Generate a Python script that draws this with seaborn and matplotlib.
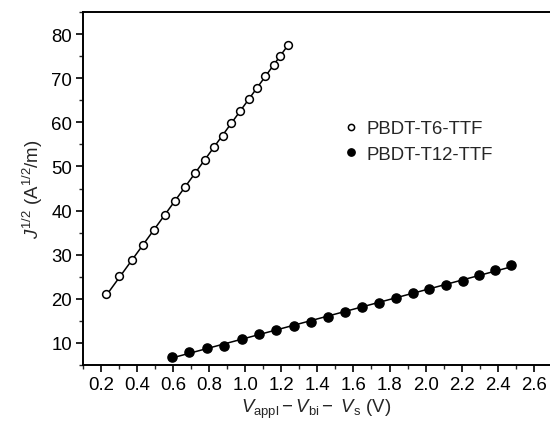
import matplotlib
matplotlib.use("Agg")
import matplotlib.pyplot as plt
import seaborn as sns
import numpy as np
import pandas as pd

sns.set_style("ticks")
plt.rcParams['font.family'] = ['Liberation Sans', 'DejaVu Sans']
plt.rcParams['mathtext.fontset'] = 'custom'
plt.rcParams['mathtext.rm'] = 'Liberation Sans'
plt.rcParams['mathtext.it'] = 'Liberation Sans:italic'

# PBDT-T6-TTF (open circles)
t6_v = [0.23, 0.30, 0.37, 0.435, 0.495, 0.555, 0.612, 0.667, 0.721, 0.775,
        0.824, 0.874, 0.922, 0.972, 1.019, 1.065, 1.111, 1.157, 1.194, 1.235]
t6_j = [21.0, 25.1, 28.7, 32.2, 35.5, 38.9, 42.2, 45.4, 48.4, 51.5,
        54.4, 57.0, 59.8, 62.6, 65.2, 67.7, 70.4, 72.9, 75.1, 77.6]

# PBDT-T12-TTF (filled circles)
t12_v = [0.592, 0.690, 0.786, 0.883, 0.980, 1.076, 1.172, 1.270, 1.364, 1.458,
         1.554, 1.646, 1.741, 1.835, 1.928, 2.020, 2.112, 2.205, 2.295, 2.386, 2.474]
t12_j = [6.9, 7.9, 8.9, 9.4, 11.0, 12.0, 13.0, 13.8, 14.8, 15.8,
         17.0, 18.1, 19.0, 20.2, 21.3, 22.2, 23.1, 24.1, 25.4, 26.6, 27.6]

x_ticks = [0.2, 0.4, 0.6, 0.8, 1.0, 1.2, 1.4, 1.6, 1.8, 2.0, 2.2, 2.4, 2.6]
y_ticks = [10, 20, 30, 40, 50, 60, 70, 80]

fig = plt.figure(figsize=(5.5, 4.27), dpi=100)
ax = fig.add_axes([83/550, 61/427, 467/550, 353/427])

# linear fit lines
sns.regplot(x=t6_v, y=t6_j, ax=ax, scatter=False, ci=None, truncate=True,
            line_kws={'color': 'black', 'lw': 1.1})
sns.regplot(x=t12_v, y=t12_j, ax=ax, scatter=False, ci=None, truncate=True,
            line_kws={'color': 'black', 'lw': 1.1})

ax.plot(t6_v, t6_j, linestyle='none', marker='o', ms=5.6, mfc='white',
        mec='black', mew=1.1, label='PBDT-T6-TTF')
ax.plot(t12_v, t12_j, linestyle='none', marker='o', ms=6.6, mfc='black',
        mec='black', mew=1.0, label='PBDT-T12-TTF')

ax.set_xlim(0.1, 2.69)
ax.set_ylim(5, 85)
ax.set_xticks(x_ticks)
ax.set_xticklabels([f'{v:.1f}' for v in x_ticks])
ax.set_yticks(y_ticks)
ax.set_xticks(np.arange(0.1, 2.7, 0.1), minor=True)
ax.set_yticks(np.arange(5, 86, 5), minor=True)

ax.tick_params(axis='both', which='major', direction='out', length=5, width=1.2,
               labelsize=13.4, colors='black', pad=3)
ax.tick_params(axis='both', which='minor', direction='out', length=3, width=1.0)

for side in ['left', 'bottom', 'top']:
    ax.spines[side].set_linewidth(1.4)
    ax.spines[side].set_color('black')
ax.spines['right'].set_visible(False)

ax.set_xlabel(r'$V_{\mathrm{appl}} - V_{\mathrm{bi}} -\ V_{\mathrm{s}}$ (V)',
              fontsize=13.4, labelpad=3)
ax.set_ylabel(r'$J^{\mathrm{1/2}}$ (A$^{\mathrm{1/2}}$/m)', fontsize=13.4, labelpad=4)

leg = ax.legend(loc='center left', bbox_to_anchor=(0.535, 0.633), frameon=False,
                fontsize=13.4, handletextpad=0.3, markerscale=0.8,
                labelspacing=0.45, handlelength=1.0, borderpad=0)

fig.savefig('out.png', dpi=100)
